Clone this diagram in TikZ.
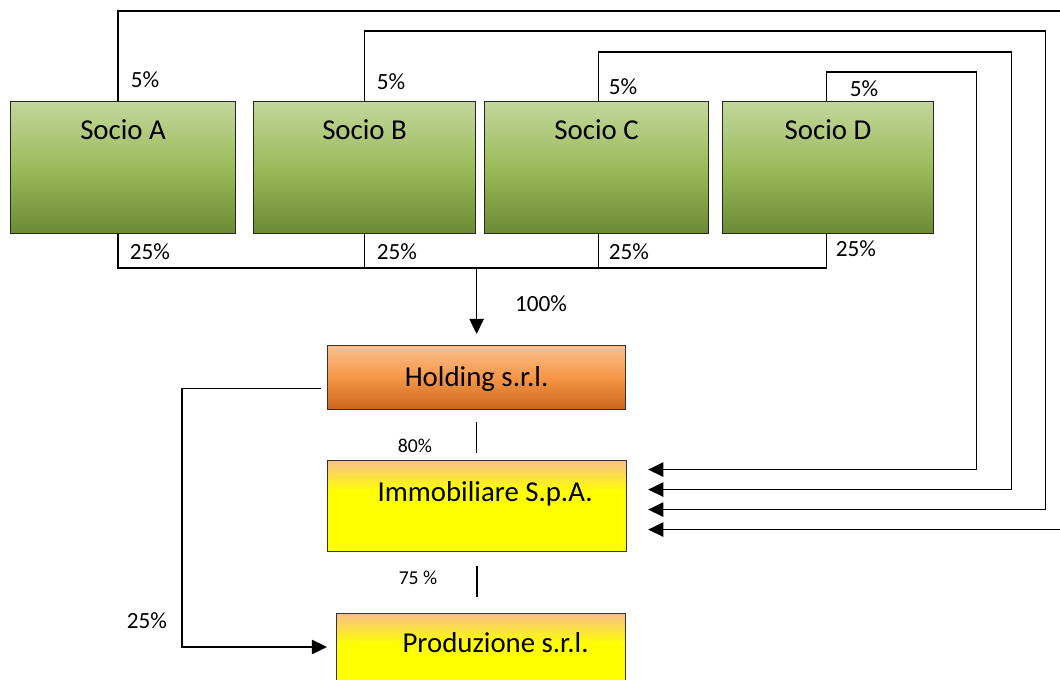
\documentclass[tikz,border=0pt]{standalone}
\usepackage{fontspec}
\setmainfont{Carlito}
\usepackage{tikz}
\usetikzlibrary{arrows.meta, calc}

\definecolor{sociotop}{HTML}{C3D69B}
\definecolor{sociomid}{HTML}{9BBB59}
\definecolor{sociobot}{HTML}{6B8A35}
\definecolor{holdtop}{HTML}{FAC08F}
\definecolor{holdmid}{HTML}{F79646}
\definecolor{holdbot}{HTML}{C9651A}
\definecolor{immotop}{HTML}{F9C08A}
\pgfdeclareverticalshading{immoshade}{100bp}{color(0bp)=(yellow); color(58bp)=(yellow); color(75bp)=(immotop); color(100bp)=(immotop)}

\begin{document}
\begin{tikzpicture}[x=0.025cm, y=-0.025cm]
		\tikzstyle{every node} = [font = \fontsize{16.5}{19}\selectfont]
		\tikzstyle{socio} = [draw=black!85, line width=0.8pt, top color=sociotop, bottom color=sociobot, middle color=sociomid, anchor=north west, inner sep=0pt, text height=0.95cm, text depth=2.35cm, font=\fontsize{20.5}{24}\selectfont]
		\tikzstyle{firm} = [draw=black!80, line width=0.8pt, anchor=north west, inner sep=0pt, font=\fontsize{20.5}{24}\selectfont]
		\tikzstyle{small} = [font=\fontsize{14}{17}\selectfont]
		\tikzstyle{link} = [line width=1.1pt]
		\tikzstyle{arr} = [link, -{Triangle[length=0.38cm, width=0.36cm]}]
				\useasboundingbox (0,0) rectangle (1060,679);
				% soci
				\node[socio, minimum width=5.625cm] (socioA) at (10,101) {Socio A};
				\node[socio, minimum width=5.55cm] (socioB) at (253,101) {Socio B};
				\node[socio, minimum width=5.6cm] (socioC) at (484,101) {Socio C};
				\node[socio, minimum width=5.275cm] (socioD) at (722,101) {Socio D};
				% societa
				\node[firm, top color=holdtop, bottom color=holdbot, middle color=holdmid,
					minimum width=7.45cm, text height=1.025cm, text depth=0.575cm] (holding) at (327,345) {Holding s.r.l.};
				\node[firm, shade, shading=immoshade,
					minimum width=7.475cm, text height=1.025cm, text depth=1.25cm] (immo) at (327,460) {\hspace*{0.4cm}Immobiliare S.p.A.};
				\node[firm, shade, shading=immoshade,
					minimum width=7.225cm, text height=0.975cm, text depth=1.275cm] (prod) at (336,613) {\hspace*{0.725cm}Produzione s.r.l.};
				% quote
				\node (pa5) at (145,80) {5\%};
				\node (pb5) at (391,82) {5\%};
				\node (pc5) at (623,87) {5\%};
				\node (pd5) at (864,89) {5\%};
				\node (pa25) at (150,252) {25\%};
				\node (pb25) at (397,252) {25\%};
				\node (pc25) at (629,252) {25\%};
				\node (pd25) at (856,249) {25\%};
				\node (p100) at (541,304) {100\%};
				\node[small] (p80) at (415,446) {80\%};
				\node[small] (p75) at (418,578) {75 \%};
				\node (p25) at (147,621) {25\%};
				% 5% verso Immobiliare
				\path[draw,arr] ($(socioA.north)+(-5,0)$)-- ++(0,-90)-- ++(944,0)
					|- ($(immo.east)+(21,23.5)$);
				\path[draw,arr] (socioB.north)-- ++(0,-70)-- ++(681,0)
					|- ($(immo.east)+(21,3.5)$);
				\path[draw,arr] ($(socioC.north)+(2,0)$)-- ++(0,-49)-- ++(413,0)
					|- ($(immo.east)+(21,-16.5)$);
				\path[draw,arr] ($(socioD.north)+(-1.5,0)$)-- ++(0,-29)-- ++(150,0)
					|- ($(immo.east)+(21,-36.5)$);
				% 25% verso Holding
				\path[draw,link] ($(socioA.south)+(-5,0)$)-- ++(0,34) coordinate (bus)
					-| ($(socioD.south)+(-1.5,0)$);
				\path[draw,link] (socioB.south)-- (socioB.south |- bus);
				\path[draw,link] ($(socioC.south)+(2,0)$)-- ++(0,34);
				\path[draw,arr,shorten >=0.275cm] (bus -| holding.north)-- (holding.north);
				% partecipazioni
				\path[draw,link,shorten <=0.3cm,shorten >=0.175cm] (holding.south)--
					(holding.south |- immo.north);
				\path[draw,link,shorten <=0.35cm,shorten >=0.4cm] (immo.south)--
					(immo.south |- prod.north);
				\path[draw,arr] ($(holding.west)+(-6,11)$)-- ++(-139,0)
					|- ($(prod.north west)+(-9,34)$);
	\end{tikzpicture}
\end{document}
